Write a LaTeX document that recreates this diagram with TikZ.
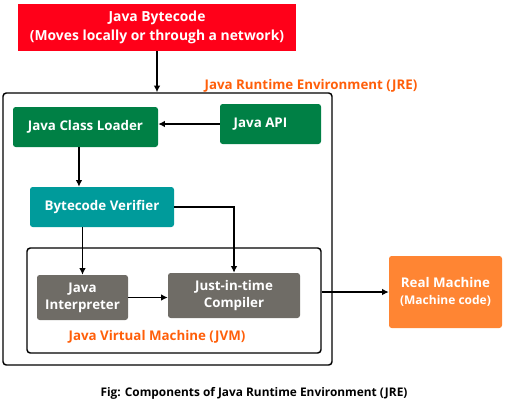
\documentclass[tikz,border=0pt]{standalone}
\usepackage{fontspec}
\setmainfont{Open Sans}
\usetikzlibrary{arrows.meta}
\definecolor{cred}{HTML}{FF0019}
\definecolor{cgreen}{HTML}{008045}
\definecolor{cteal}{HTML}{009B9B}
\definecolor{cgray}{HTML}{6F6C66}
\definecolor{corange}{HTML}{FF8533}
\definecolor{ctext}{HTML}{FF5F0A}
\tikzset{
  box/.style={draw=none,rounded corners=2pt,text=white,font=\bfseries\fontsize{10}{12.5}\selectfont,align=center,inner sep=0pt},
  frame/.style={draw=black,line width=1.1pt,rounded corners=2.5pt,inner sep=0pt},
  arr/.style={line width=1pt,-{Latex[length=5pt,width=5pt]}},
  lbl/.style={text=ctext,font=\bfseries\fontsize{10}{12}\selectfont,inner sep=0pt},
}
\begin{document}
\begin{tikzpicture}[x=0.75pt,y=-0.75pt]
\useasboundingbox (0,0) rectangle (505,408);
\node[box,fill=cred,rounded corners=0pt,minimum width=208.5pt,minimum height=35.25pt,font=\bfseries\fontsize{10.4}{14}\selectfont] (red) at (157,27.5) {Java Bytecode\\(Moves locally or through a network)};
\node[frame,minimum width=246.75pt,minimum height=204pt] (jre) at (167.5,229) {};
\node[lbl] (jrelbl) at (311,86) {Java Runtime Environment (JRE)};
\node[box,fill=cgreen,minimum width=108.75pt,minimum height=30pt] (loader) at (85.5,127) {Java Class Loader};
\node[box,fill=cgreen,minimum width=75.75pt,minimum height=30pt] (api) at (270.5,124) {Java API\hspace*{15pt}};
\node[box,fill=cteal,minimum width=108pt,minimum height=30pt] (verifier) at (102,207) {Bytecode Verifier};
\node[frame,minimum width=220.5pt,minimum height=78.75pt] (jvm) at (174,300.5) {};
\node[box,fill=cgray,minimum width=68.25pt,minimum height=33.75pt] (interp) at (82.5,297.5) {Java\\Interpreter};
\node[box,fill=cgray,minimum width=99pt,minimum height=33.75pt] (jit) at (234,295.5) {Just-in-time\\Compiler};
\node[lbl] (jvmlbl) at (157,337) {Java Virtual Machine (JVM)};
\node[box,fill=corange,minimum width=84.75pt,minimum height=54pt] (real) at (445.5,292) {Real Machine\\{\fontsize{9}{11}\selectfont(Machine code)}};
\node[font=\bfseries\fontsize{8.9}{11}\selectfont,inner sep=0pt] (cap) at (254,393) {Fig: Components of Java Runtime Environment (JRE)};
\draw[arr] (red.south) -- (red.south |- jre.north);
\draw[arr] (api.west) -- (api.west -| loader.east);
\draw[arr] ([xshift=-4.9pt]loader.south) -- ([xshift=-4.9pt]loader.south |- verifier.north);
\draw[arr] (interp.north |- verifier.south) -- (interp.north);
\draw[arr] (verifier.east) -| (jit.north);
\draw[arr] (interp.east) -- (interp.east -| jit.west);
\draw[arr] (real.west -| jvm.east) -- (real.west);
\end{tikzpicture}
\end{document}
